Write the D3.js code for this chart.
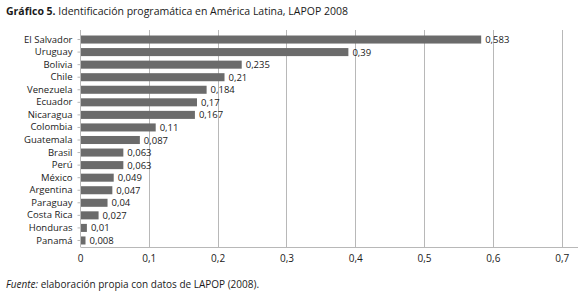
<!DOCTYPE html>
<html>
<head>
<meta charset="utf-8">
<script src="https://cdn.jsdelivr.net/npm/d3@7"></script>
<style>
  body { margin: 0; background: #fff; }
  text { font-family: "Open Sans", "Noto Sans", sans-serif; fill: #1a1a1a; }
</style>
</head>
<body>
<svg id="chart"></svg>
<script>
const countries = ["El Salvador", "Uruguay", "Bolivia", "Chile", "Venezuela", "Ecuador", "Nicaragua",
    "Colombia", "Guatemala", "Brasil", "Perú", "México", "Argentina", "Paraguay", "Costa Rica", "Honduras", "Panamá"];
const values = [0.583, 0.39, 0.235, 0.21, 0.184, 0.17, 0.167, 0.11, 0.087, 0.063, 0.063, 0.049, 0.047, 0.04, 0.027, 0.01, 0.008];
const xTicks = [0, 0.1, 0.2, 0.3, 0.4, 0.5, 0.6, 0.7];

const W = 580, H = 293;
const margin = {top: 33, right: 2, bottom: 46, left: 80};
const width = W - margin.left - margin.right;
const height = H - margin.top - margin.bottom;

const svg = d3.select("#chart").attr("width", W).attr("height", H);
const fmt = d => String(d).replace(".", ",");

const x = d3.scaleLinear().domain([0, 0.7]).range([0, 481.7]);
const y = d3.scaleBand().domain(countries).range([0, height]).paddingInner(0.36).paddingOuter(0.2);

const g = svg.append("g").attr("transform", `translate(${margin.left},${margin.top})`);

// gridlines
g.append("g")
    .selectAll("line")
    .data(xTicks.slice(1))
    .join("line")
    .attr("x1", d => Math.round(x(d)) + 0.5)
    .attr("x2", d => Math.round(x(d)) + 0.5)
    .attr("y1", -3)
    .attr("y2", height + 0.5)
    .attr("stroke", "#b8b8b8")
    .attr("stroke-width", 1);

// bars
g.append("g")
    .selectAll("rect")
    .data(values)
    .join("rect")
    .attr("x", 0)
    .attr("y", (d, i) => y(countries[i]))
    .attr("width", d => x(d))
    .attr("height", y.bandwidth())
    .attr("fill", "#6b6b6b");

// value labels
g.append("g")
    .selectAll("text")
    .data(values)
    .join("text")
    .attr("x", d => x(d) + 4)
    .attr("y", (d, i) => y(countries[i]) + y.bandwidth() / 2 + 3.5)
    .attr("font-size", 9.5)
    .text(d => fmt(d));

// x axis
const gx = g.append("g").attr("transform", `translate(0,${height})`)
    .call(d3.axisBottom(x).tickValues(xTicks).tickFormat(fmt).tickSize(0).tickPadding(8));
gx.select(".domain").attr("d", `M0.5,0.5H${width}`).attr("stroke", "#b8b8b8");
gx.selectAll("text").attr("font-size", 10).attr("fill", "#1a1a1a");

// y axis
const gy = g.append("g").attr("transform", "translate(0.5,0)")
    .call(d3.axisLeft(y).tickSize(3).tickPadding(5));
gy.select(".domain").attr("d", `M0,-3V${height}`).attr("stroke", "#b8b8b8");
gy.selectAll(".tick line").attr("stroke", "#b8b8b8");
gy.selectAll("text").attr("font-size", 9.5).attr("fill", "#1a1a1a");

// title
const title = svg.append("text").attr("x", 6).attr("y", 15).attr("font-size", 10.5);
title.append("tspan").attr("font-weight", "bold").text("Gráfico 5.");
title.append("tspan").text(" Identificación programática en América Latina, LAPOP 2008");

// source
const src = svg.append("text").attr("x", 6).attr("y", 288).attr("font-size", 10);
src.append("tspan").attr("font-style", "italic").text("Fuente:");
src.append("tspan").text(" elaboración propia con datos de LAPOP (2008).");
</script>
</body>
</html>
